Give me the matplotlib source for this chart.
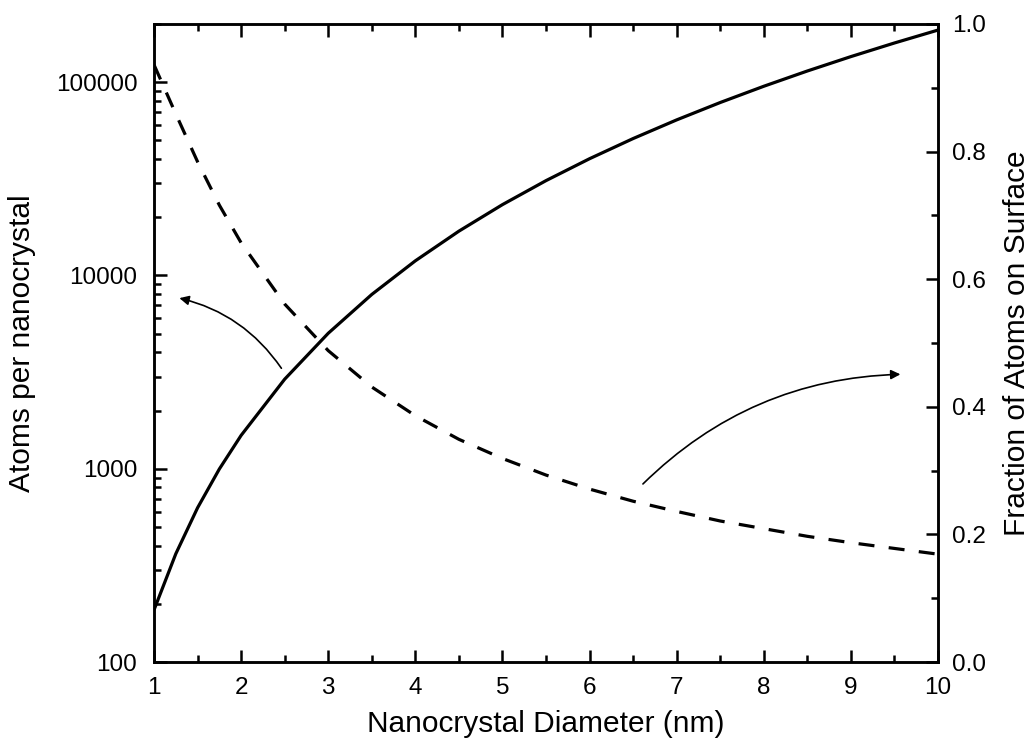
import numpy as np
import matplotlib
matplotlib.use("Agg")
import matplotlib.pyplot as plt
from matplotlib import ticker

plt.rcParams["font.family"] = ["Liberation Sans", "DejaVu Sans"]

# nanocrystal diameter (nm)
diameter = [1.0, 1.25, 1.5, 1.75, 2.0, 2.5, 3.0, 3.5, 4.0, 4.5, 5.0, 5.5,
            6.0, 6.5, 7.0, 7.5, 8.0, 8.5, 9.0, 9.5, 10.0]
# atoms per nanocrystal (left, log axis)
atoms = [186, 363, 628, 997, 1488, 2906, 5022, 7975, 11904, 16950, 23250,
         30946, 40176, 51081, 63798, 78469, 95232, 114227, 135594, 159472, 186000]
# fraction of atoms on surface (right axis)
surface_frac = [0.936, 0.859, 0.784, 0.716, 0.657, 0.561, 0.488, 0.431, 0.386,
                0.349, 0.319, 0.293, 0.271, 0.252, 0.236, 0.221, 0.209, 0.197,
                0.187, 0.178, 0.169]

fig = plt.figure(figsize=(10.31, 7.40), dpi=100)
ax = fig.add_axes([0.1494, 0.1054, 0.7604, 0.8622])
ax2 = ax.twinx()

ax.plot(diameter, atoms, color="black", lw=2.3, solid_capstyle="butt")
ax2.plot(diameter, surface_frac, color="black", lw=2.3, dashes=(5, 4.5))

ax.set_xlim(1, 10)
ax.set_yscale("log")
ax.set_ylim(100, 2e5)
ax2.set_ylim(0, 1.0)

ax.xaxis.set_major_locator(ticker.MultipleLocator(1))
ax.xaxis.set_minor_locator(ticker.MultipleLocator(0.5))
ax.yaxis.set_major_locator(ticker.LogLocator(base=10, numticks=10))
ax.yaxis.set_minor_locator(ticker.LogLocator(base=10, subs=np.arange(2, 10), numticks=10))
ax.yaxis.set_major_formatter(ticker.FuncFormatter(lambda v, _: f"{v:g}"))
ax.yaxis.set_minor_formatter(ticker.NullFormatter())
ax2.yaxis.set_major_locator(ticker.MultipleLocator(0.2))
ax2.yaxis.set_minor_locator(ticker.MultipleLocator(0.1))
ax2.yaxis.set_major_formatter(ticker.FormatStrFormatter("%.1f"))

ax.tick_params(axis="x", which="both", direction="in", top=True, bottom=True,
               labelsize=17.5, pad=11)
ax.tick_params(axis="y", which="both", direction="in", left=True, right=False,
               labelsize=17.5, pad=12)
ax2.tick_params(axis="y", which="both", direction="in", labelsize=17.5, pad=10)
for a in (ax, ax2):
    a.tick_params(which="major", length=9, width=1.8)
    a.tick_params(which="minor", length=5, width=1.8)
    for sp in a.spines.values():
        sp.set_linewidth(1.8)

ax.set_xlabel("Nanocrystal Diameter (nm)", fontsize=21.5, labelpad=8)
ax.set_ylabel("Atoms per nanocrystal", fontsize=21.5, labelpad=14)
ax2.set_ylabel("Fraction of Atoms on Surface", fontsize=21.5, labelpad=12)

# arrows pointing each curve to its axis
ax.annotate("", xy=(1.26, 7690), xytext=(2.48, 3220),
            arrowprops=dict(arrowstyle="-|>", color="black", lw=1.2,
                            mutation_scale=14, connectionstyle="arc3,rad=0.2"))
ax2.annotate("", xy=(9.60, 0.451), xytext=(6.59, 0.276),
             arrowprops=dict(arrowstyle="-|>", color="black", lw=1.2,
                             mutation_scale=14, connectionstyle="arc3,rad=-0.2"))

fig.savefig("out.png", dpi=100)
